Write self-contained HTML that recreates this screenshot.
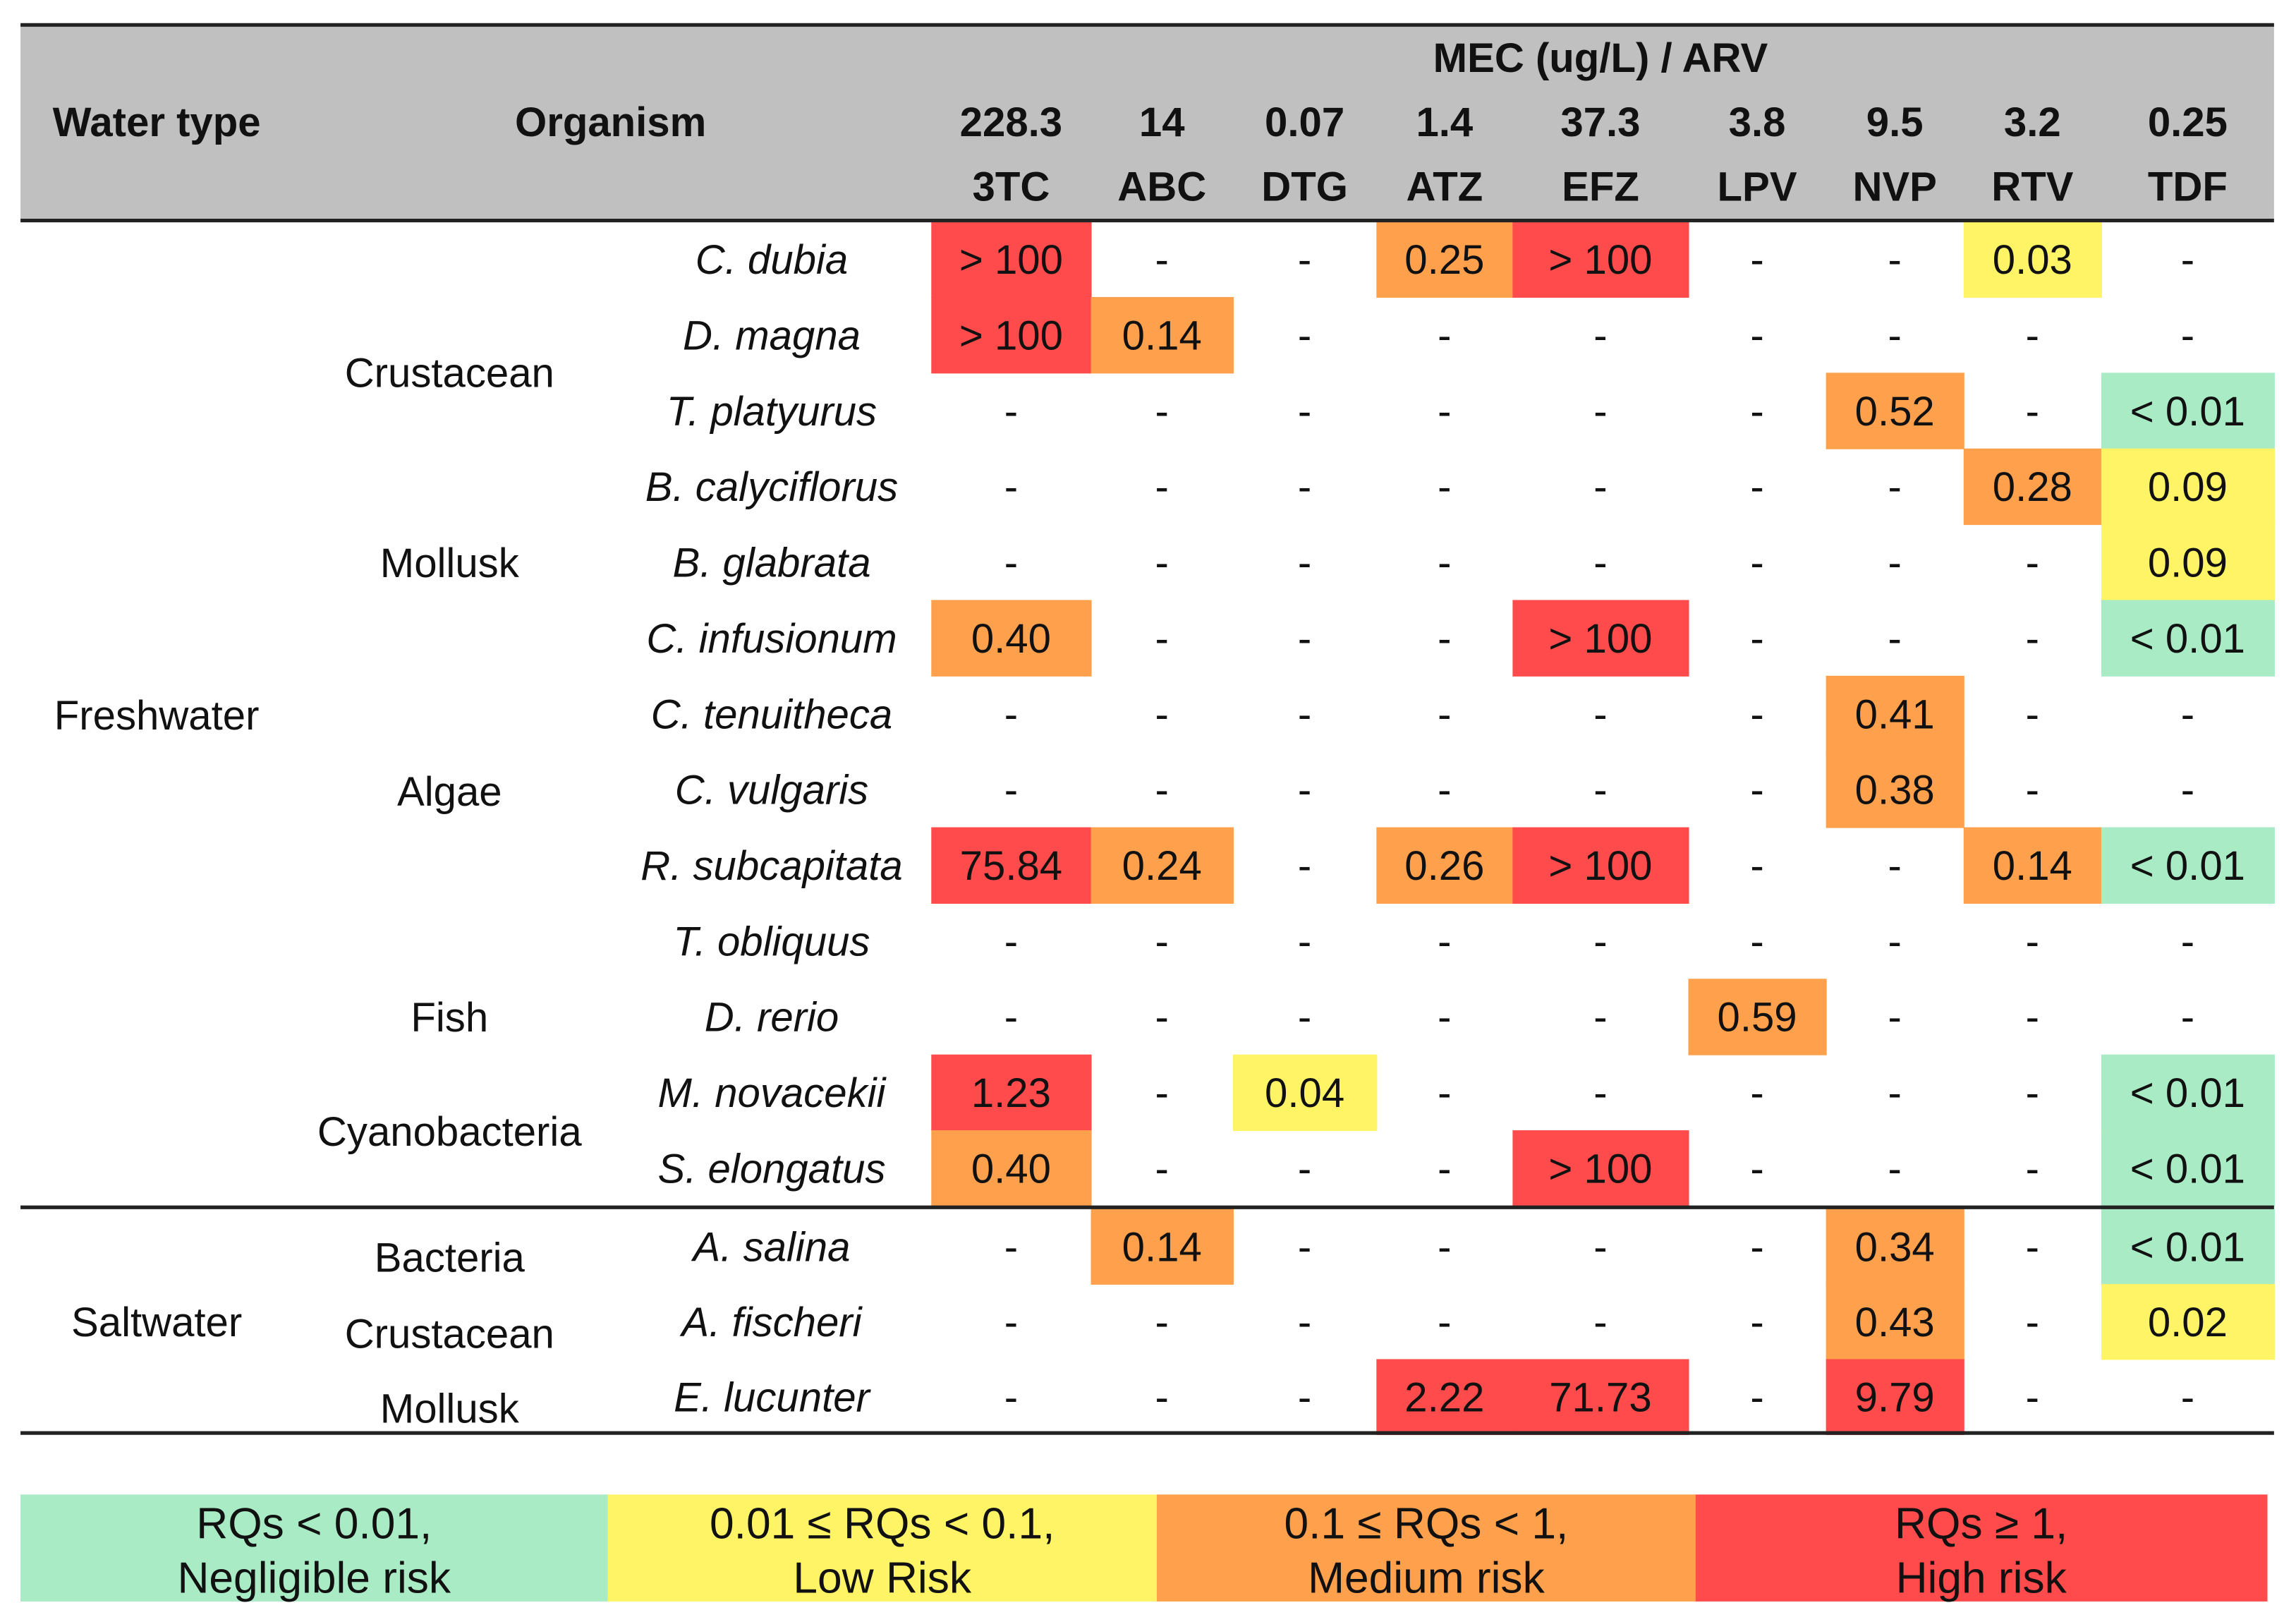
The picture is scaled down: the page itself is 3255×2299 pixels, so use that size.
<!DOCTYPE html>
<html><head><meta charset="utf-8"><style>
html,body{margin:0;padding:0;background:#fff;}
svg{display:block;}
text{font-family:"Liberation Sans",Arial,sans-serif;fill:#111;}
</style></head><body>
<svg id="t" width="3255" height="2299" viewBox="0 0 1568 1107" preserveAspectRatio="none" xmlns="http://www.w3.org/2000/svg">
<rect x="14" y="17" width="1539" height="133" fill="#c0c0c0"/>
<g id="cells"></g>
<g id="txt"></g>
<line x1="14" y1="17" x2="1553" y2="17" stroke="#222" stroke-width="2.5"/>
<line x1="14" y1="150.5" x2="1553" y2="150.5" stroke="#222" stroke-width="2.5"/>
<line x1="14" y1="824" x2="1553" y2="824" stroke="#222" stroke-width="2.5"/>
<line x1="14" y1="978" x2="1553" y2="978" stroke="#222" stroke-width="2.5"/>
<g font-size="28" font-weight="bold" text-anchor="middle">
<text x="107" y="93">Water type</text>
<text x="417" y="93">Organism</text>
<text x="1093" y="49">MEC (ug/L) / ARV</text>
</g>
<g id="legend"></g>
</svg>
<script>
const drugs=["3TC","ABC","DTG","ATZ","EFZ","LPV","NVP","RTV","TDF"];
const mec=["228.3","14","0.07","1.4","37.3","3.8","9.5","3.2","0.25"];
const species=["C. dubia","D. magna","T. platyurus","B. calyciflorus","B. glabrata","C. infusionum","C. tenuitheca","C. vulgaris","R. subcapitata","T. obliquus","D. rerio","M. novacekii","S. elongatus","A. salina","A. fischeri","E. lucunter"];
const values=[
["> 100","-","-","0.25","> 100","-","-","0.03","-"],
["> 100","0.14","-","-","-","-","-","-","-"],
["-","-","-","-","-","-","0.52","-","< 0.01"],
["-","-","-","-","-","-","-","0.28","0.09"],
["-","-","-","-","-","-","-","-","0.09"],
["0.40","-","-","-","> 100","-","-","-","< 0.01"],
["-","-","-","-","-","-","0.41","-","-"],
["-","-","-","-","-","-","0.38","-","-"],
["75.84","0.24","-","0.26","> 100","-","-","0.14","< 0.01"],
["-","-","-","-","-","-","-","-","-"],
["-","-","-","-","-","0.59","-","-","-"],
["1.23","-","0.04","-","-","-","-","-","< 0.01"],
["0.40","-","-","-","> 100","-","-","-","< 0.01"],
["-","0.14","-","-","-","-","0.34","-","< 0.01"],
["-","-","-","-","-","-","0.43","-","0.02"],
["-","-","-","2.22","71.73","-","9.79","-","-"]];
const groups=[["Crustacean",254],["Mollusk",384],["Algae",540],["Fish",694],["Cyanobacteria",772],["Bacteria",858],["Crustacean",910],["Mollusk",961]];
const waters=[["Freshwater",488],["Saltwater",902]];
const legendLabels=[["RQs < 0.01,","Negligible risk"],["0.01 ≤ RQs < 0.1,","Low Risk"],["0.1 ≤ RQs < 1,","Medium risk"],["RQs ≥ 1,","High risk"]];

const NS="http://www.w3.org/2000/svg";
const bounds=[636,745,842,940,1033,1153,1247,1341,1435,1553];
const legB=[14,415,790,1158,1548];
const legC=["#a8ebc4","#fff466","#ffa04c","#ff4b4b"];
function rowTop(i){return i<13?151+i*51.7:825+(i-13)*51.3;}
function color(v){
  if(v==="-")return null;
  if(v.startsWith("<"))return legC[0];
  if(v.startsWith(">"))return legC[3];
  const n=parseFloat(v);
  if(n<0.01)return legC[0]; if(n<0.1)return legC[1]; if(n<1)return legC[2]; return legC[3];
}
function mk(tag,attrs,parent){const e=document.createElementNS(NS,tag);for(const k in attrs)e.setAttribute(k,attrs[k]);parent.appendChild(e);return e;}
const cells=document.getElementById('cells'),txt=document.getElementById('txt'),leg=document.getElementById('legend');
drugs.forEach((d,j)=>{
  const cx=(bounds[j]+bounds[j+1])/2;
  let t=mk('text',{x:cx,y:93,'font-size':28,'font-weight':'bold','text-anchor':'middle'},txt);t.textContent=mec[j];
  
  
  t=mk('text',{x:cx,y:137,'font-size':28,'font-weight':'bold','text-anchor':'middle'},txt);t.textContent=d;
  
  
});
species.forEach((s,i)=>{
  const y0=rowTop(i),h=i<13?51.7:51.3,ty=y0+h/2+10;
  let t=mk('text',{x:527,y:ty,'font-size':28,'font-style':'italic','text-anchor':'middle'},txt);t.textContent=s;
  
  
  values[i].forEach((v,j)=>{
    const c=color(v),cx=(bounds[j]+bounds[j+1])/2;
    if(c){const r=mk('rect',{x:bounds[j],y:y0,width:bounds[j+1]-bounds[j]+0.5,height:h+0.5,fill:c},cells);
      
      }
    const tt=mk('text',{x:cx,y:ty,'font-size':28,'text-anchor':'middle'},txt);tt.textContent=v;
    
    
  });
});
groups.forEach(g=>{const t=mk('text',{x:307,y:g[1]+10,'font-size':28,'text-anchor':'middle'},txt);t.textContent=g[0];
  
  });
waters.forEach(w=>{const t=mk('text',{x:107,y:w[1]+10,'font-size':28,'text-anchor':'middle'},txt);t.textContent=w[0];
  
  });
legendLabels.forEach((l,k)=>{
  const r=mk('rect',{x:legB[k],y:1020,width:legB[k+1]-legB[k]+0.5,height:73,fill:legC[k]},leg);
  
  
  const cx=(legB[k]+legB[k+1])/2;
  let t=mk('text',{x:cx,y:1050,'font-size':30,'text-anchor':'middle'},leg);t.textContent=l[0];
  
  
  t=mk('text',{x:cx,y:1087,'font-size':30,'text-anchor':'middle'},leg);t.textContent=l[1];
  
  
});
</script>
</body></html>
